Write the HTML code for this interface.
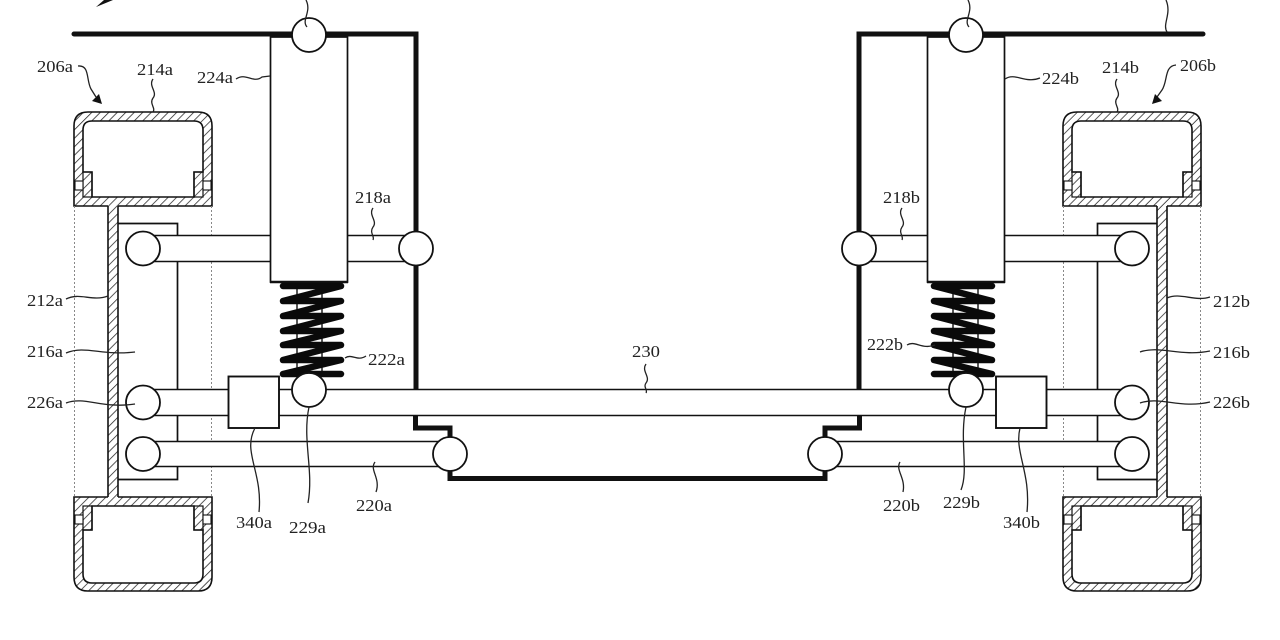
<!DOCTYPE html>
<html>
<head>
<meta charset="utf-8">
<style>
  html,body{margin:0;padding:0;background:#fff;}
  svg{display:block;}
  text{font-family:"Liberation Serif","Times New Roman",serif;font-size:17px;fill:#222;}
</style>
</head>
<body>
<svg width="1280" height="640" viewBox="0 0 1280 640" xmlns="http://www.w3.org/2000/svg">
<defs>
  <pattern id="hL" width="6" height="6" patternUnits="userSpaceOnUse" patternTransform="rotate(45)">
    <rect width="6" height="6" fill="#fff"/>
    <line x1="0" y1="0" x2="0" y2="6" stroke="#222" stroke-width="1.5"/>
  </pattern>
  <pattern id="hR" width="6" height="6" patternUnits="userSpaceOnUse" patternTransform="rotate(-45)">
    <rect width="6" height="6" fill="#fff"/>
    <line x1="0" y1="0" x2="0" y2="6" stroke="#222" stroke-width="1.5"/>
  </pattern>

  <!-- background layer (left half) -->
  <g id="bg">
    <line x1="74.5" y1="206" x2="74.5" y2="497" stroke="#888" stroke-width="1" stroke-dasharray="2 2"/>
    <line x1="211.5" y1="206" x2="211.5" y2="497" stroke="#888" stroke-width="1" stroke-dasharray="2 2"/>
    <path d="M118,223.5 H177.5 V479.5 H118" fill="none" stroke="#111" stroke-width="1.7"/>
    <path d="M74,34 H416 V389" fill="none" stroke="#111" stroke-width="5" stroke-linecap="round"/>
    <path d="M415.5,416 V428 H450 V438 M450,470 V478.5 H638" fill="none" stroke="#111" stroke-width="5"/>
  </g>

  <!-- foreground layer (left half) -->
  <g id="fg">
    <rect x="270.5" y="37" width="77" height="245" fill="#fff" stroke="#111" stroke-width="1.7"/>
    <line x1="270" y1="282" x2="348" y2="282" stroke="#111" stroke-width="2.6"/>
    <line x1="297" y1="282" x2="297" y2="376" stroke="#111" stroke-width="1.4"/>
    <line x1="322" y1="282" x2="322" y2="376" stroke="#111" stroke-width="1.4"/>
    <polyline points="283,286 341,286 283,301 341,301 283,316 341,316 283,331 341,331 283,345 341,345 283,360 341,360 283,374 341,374"
      fill="none" stroke="#0a0a0a" stroke-width="6.5" stroke-linejoin="round" stroke-linecap="round"/>
    <g fill="#fff" stroke="#111" stroke-width="1.8">
      <circle cx="143" cy="248.5" r="17"/>
      <circle cx="416" cy="248.5" r="17"/>
      <circle cx="143" cy="402.5" r="17"/>
      <circle cx="143" cy="454" r="17"/>
      <circle cx="450" cy="454" r="17"/>
      <circle cx="309" cy="35" r="17"/>
      <circle cx="309" cy="390" r="17"/>
    </g>
    <rect x="228.5" y="376.5" width="50.5" height="51.5" fill="#fff" stroke="#111" stroke-width="1.9"/>
  </g>
</defs>

<rect width="1280" height="640" fill="#fff"/>

<!-- Hatched boxes left -->
<g stroke="#111" stroke-width="1.6">
  <path fill="url(#hL)" fill-rule="evenodd" d="M74,206 V126 Q74,112 88,112 H198 Q212,112 212,126 V206 Z M83,130 Q83,121 92,121 H194 Q203,121 203,130 V172 H194 V197 H92 V172 H83 Z"/>
  <rect x="83" y="172" width="9" height="25" fill="none" stroke-width="1.2"/>
  <rect x="194" y="172" width="9" height="25" fill="none" stroke-width="1.2"/>
  <rect x="75" y="181" width="8" height="9" fill="#fff" stroke-width="1.1"/>
  <rect x="203" y="181" width="8" height="9" fill="#fff" stroke-width="1.1"/>
  <path fill="url(#hL)" fill-rule="evenodd" d="M74,497 H212 V577 Q212,591 198,591 H88 Q74,591 74,577 Z M92,506 H194 V530 H203 V574 Q203,583 194,583 H92 Q83,583 83,574 V530 H92 Z"/>
  <rect x="83" y="506" width="9" height="24" fill="none" stroke-width="1.2"/>
  <rect x="194" y="506" width="9" height="24" fill="none" stroke-width="1.2"/>
  <rect x="75" y="515" width="8" height="9" fill="#fff" stroke-width="1.1"/>
  <rect x="203" y="515" width="8" height="9" fill="#fff" stroke-width="1.1"/>
</g>
<rect x="108" y="205" width="10" height="293" fill="url(#hL)"/>
<line x1="108" y1="206" x2="108" y2="497" stroke="#111" stroke-width="1.6"/>
<line x1="118" y1="206" x2="118" y2="497" stroke="#111" stroke-width="1.6"/>

<!-- Hatched boxes right (mirrored) -->
<g transform="matrix(-1,0,0,1,1275,0)">
  <g stroke="#111" stroke-width="1.6">
    <path fill="url(#hR)" fill-rule="evenodd" d="M74,206 V126 Q74,112 88,112 H198 Q212,112 212,126 V206 Z M83,130 Q83,121 92,121 H194 Q203,121 203,130 V172 H194 V197 H92 V172 H83 Z"/>
    <rect x="83" y="172" width="9" height="25" fill="none" stroke-width="1.2"/>
    <rect x="194" y="172" width="9" height="25" fill="none" stroke-width="1.2"/>
    <rect x="75" y="181" width="8" height="9" fill="#fff" stroke-width="1.1"/>
    <rect x="203" y="181" width="8" height="9" fill="#fff" stroke-width="1.1"/>
    <path fill="url(#hR)" fill-rule="evenodd" d="M74,497 H212 V577 Q212,591 198,591 H88 Q74,591 74,577 Z M92,506 H194 V530 H203 V574 Q203,583 194,583 H92 Q83,583 83,574 V530 H92 Z"/>
    <rect x="83" y="506" width="9" height="24" fill="none" stroke-width="1.2"/>
    <rect x="194" y="506" width="9" height="24" fill="none" stroke-width="1.2"/>
    <rect x="75" y="515" width="8" height="9" fill="#fff" stroke-width="1.1"/>
    <rect x="203" y="515" width="8" height="9" fill="#fff" stroke-width="1.1"/>
  </g>
  <rect x="108" y="205" width="10" height="293" fill="url(#hR)"/>
  <line x1="108" y1="206" x2="108" y2="497" stroke="#111" stroke-width="1.6"/>
  <line x1="118" y1="206" x2="118" y2="497" stroke="#111" stroke-width="1.6"/>
</g>

<use href="#bg"/>
<use href="#bg" transform="matrix(-1,0,0,1,1275,0)"/>

<!-- Rods -->
<g>
  <rect x="143" y="235" width="273" height="27" fill="#fff"/>
  <line x1="143" y1="235.5" x2="416" y2="235.5" stroke="#111" stroke-width="1.6"/>
  <line x1="143" y1="261.5" x2="416" y2="261.5" stroke="#111" stroke-width="1.6"/>
  <rect x="859" y="235" width="273" height="27" fill="#fff"/>
  <line x1="859" y1="235.5" x2="1132" y2="235.5" stroke="#111" stroke-width="1.6"/>
  <line x1="859" y1="261.5" x2="1132" y2="261.5" stroke="#111" stroke-width="1.6"/>
  <rect x="143" y="389" width="989" height="27" fill="#fff"/>
  <line x1="143" y1="389.5" x2="1132" y2="389.5" stroke="#111" stroke-width="1.6"/>
  <line x1="143" y1="415.5" x2="1132" y2="415.5" stroke="#111" stroke-width="1.6"/>
  <rect x="143" y="441" width="307" height="26" fill="#fff"/>
  <line x1="143" y1="441.5" x2="450" y2="441.5" stroke="#111" stroke-width="1.6"/>
  <line x1="143" y1="466.5" x2="450" y2="466.5" stroke="#111" stroke-width="1.6"/>
  <rect x="825" y="441" width="307" height="26" fill="#fff"/>
  <line x1="825" y1="441.5" x2="1132" y2="441.5" stroke="#111" stroke-width="1.6"/>
  <line x1="825" y1="466.5" x2="1132" y2="466.5" stroke="#111" stroke-width="1.6"/>
</g>

<use href="#fg"/>
<use href="#fg" transform="matrix(-1,0,0,1,1275,0)"/>

<line x1="1196" y1="34" x2="1203" y2="34" stroke="#111" stroke-width="5" stroke-linecap="round"/>

<!-- Leader lines -->
<g fill="none" stroke="#222" stroke-width="1.3">
  <path d="M307,27 C301,20 312,12 306,0"/>
  <path d="M969,27 C963,20 974,12 968,0"/>
  <path d="M1167,32 C1162,24 1172,14 1166,0"/>
  <path d="M78,66 C90,65 86,80 91,89 L96,97"/>
  <path d="M153,79 C148,86 158,92 153,98 C149,104 156,108 153,112"/>
  <path d="M236,79 C246,72 253,84 262,77 L270,76"/>
  <path d="M373,208 C368,215 378,221 373,227 C369,233 375,236 373,240"/>
  <path d="M66,299 C80,292 92,302 108,296"/>
  <path d="M66,353 C85,345 102,356 135,352"/>
  <path d="M66,403 C85,396 102,409 135,404"/>
  <path d="M345,358 C352,353 357,362 366,356"/>
  <path d="M255,428 C242,452 263,472 259,512"/>
  <path d="M309,407 C302,440 314,470 308,503"/>
  <path d="M375,462 C369,470 381,478 376,492"/>
  <path d="M646,364 C641,371 651,377 646,383 C643,387 648,390 646,393"/>
  <path d="M1176,65 C1164,66 1168,81 1162,90 L1157,97"/>
  <path d="M1117,79 C1112,86 1122,92 1117,98 C1113,104 1120,108 1117,112"/>
  <path d="M1005,79 C1015,72 1025,84 1040,78"/>
  <path d="M902,208 C897,215 907,221 902,227 C898,233 904,236 902,240"/>
  <path d="M1167,298 C1180,292 1195,302 1210,297"/>
  <path d="M1140,352 C1160,345 1180,357 1210,351"/>
  <path d="M1140,403 C1160,396 1180,409 1210,402"/>
  <path d="M907,345 C915,340 922,350 935,345"/>
  <path d="M900,462 C895,470 906,478 903,492"/>
  <path d="M966,407 C959,440 969,470 961,490"/>
  <path d="M1020,428 C1014,452 1031,472 1027,512"/>
</g>
<g fill="#111">
  <polygon points="102,104 99,94 92,101"/>
  <polygon points="1152,104 1155,94 1162,101"/>
  <polygon points="96,7 104,0 113,0"/>
</g>

<!-- Labels -->
<g>
  <text x="37" y="72" textLength="36" lengthAdjust="spacingAndGlyphs">206a</text>
  <text x="137" y="75" textLength="36" lengthAdjust="spacingAndGlyphs">214a</text>
  <text x="197" y="83" textLength="36" lengthAdjust="spacingAndGlyphs">224a</text>
  <text x="355" y="203" textLength="36" lengthAdjust="spacingAndGlyphs">218a</text>
  <text x="27" y="306" textLength="36" lengthAdjust="spacingAndGlyphs">212a</text>
  <text x="27" y="357" textLength="36" lengthAdjust="spacingAndGlyphs">216a</text>
  <text x="27" y="408" textLength="36" lengthAdjust="spacingAndGlyphs">226a</text>
  <text x="368" y="365" textLength="37" lengthAdjust="spacingAndGlyphs">222a</text>
  <text x="236" y="528" textLength="36" lengthAdjust="spacingAndGlyphs">340a</text>
  <text x="289" y="533" textLength="37" lengthAdjust="spacingAndGlyphs">229a</text>
  <text x="356" y="511" textLength="36" lengthAdjust="spacingAndGlyphs">220a</text>
  <text x="632" y="357" textLength="28" lengthAdjust="spacingAndGlyphs">230</text>
  <text x="1180" y="71" textLength="36" lengthAdjust="spacingAndGlyphs">206b</text>
  <text x="1102" y="73" textLength="37" lengthAdjust="spacingAndGlyphs">214b</text>
  <text x="1042" y="84" textLength="37" lengthAdjust="spacingAndGlyphs">224b</text>
  <text x="883" y="203" textLength="37" lengthAdjust="spacingAndGlyphs">218b</text>
  <text x="1213" y="307" textLength="37" lengthAdjust="spacingAndGlyphs">212b</text>
  <text x="1213" y="358" textLength="37" lengthAdjust="spacingAndGlyphs">216b</text>
  <text x="1213" y="408" textLength="37" lengthAdjust="spacingAndGlyphs">226b</text>
  <text x="867" y="350" textLength="36" lengthAdjust="spacingAndGlyphs">222b</text>
  <text x="883" y="511" textLength="37" lengthAdjust="spacingAndGlyphs">220b</text>
  <text x="943" y="508" textLength="37" lengthAdjust="spacingAndGlyphs">229b</text>
  <text x="1003" y="528" textLength="37" lengthAdjust="spacingAndGlyphs">340b</text>
</g>
</svg>
</body>
</html>
